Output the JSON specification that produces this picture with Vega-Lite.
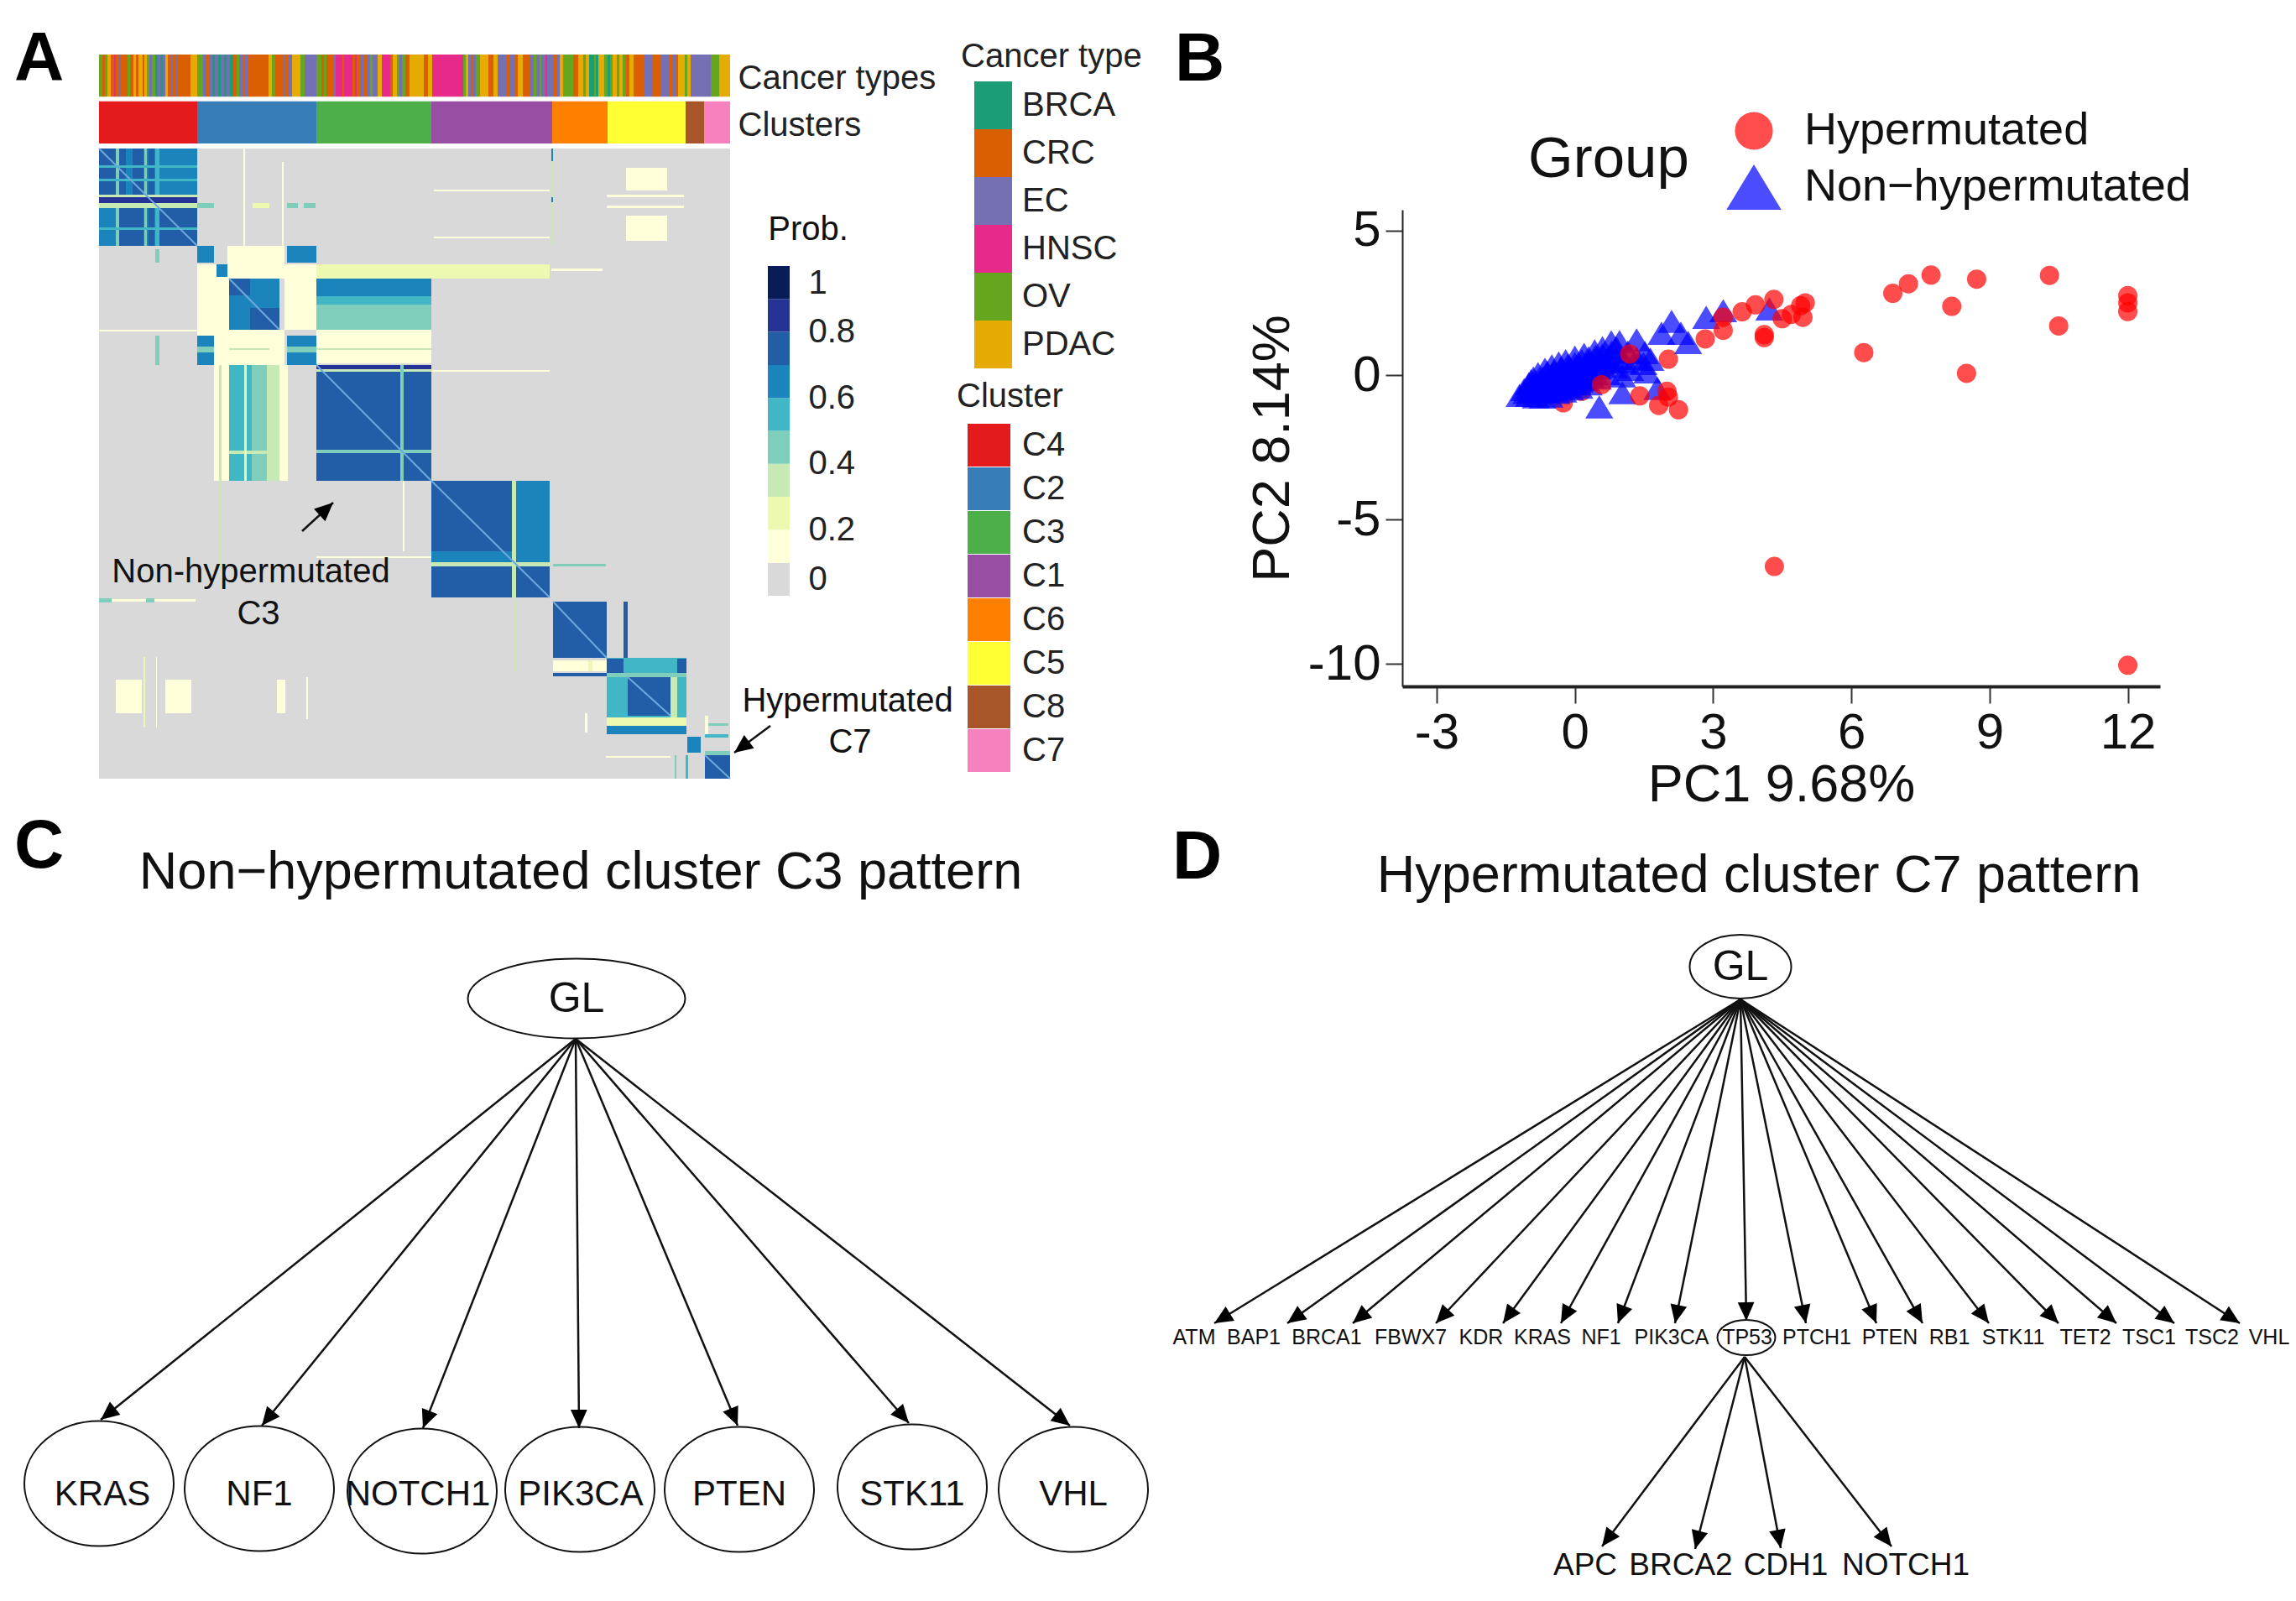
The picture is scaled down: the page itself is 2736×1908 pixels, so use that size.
{
"$schema":"https://vega.github.io/schema/vega-lite/v6.json",
"width":2736,"height":1908,"padding":0,"autosize":{"type":"none"},"background":"white",
"config":{"view":{"stroke":null},"font":"Liberation Sans","text":{"font":"Liberation Sans"}},
"datasets":{
"stripes":[
{"x0":0,"x1":4,"t":"OV"},{"x0":4,"x1":7,"t":"CRC"},{"x0":7,"x1":10,"t":"OV"},{"x0":10,"x1":14,"t":"PDAC"},{"x0":14,"x1":18,"t":"CRC"},{"x0":18,"x1":20,"t":"HNSC"},{"x0":20,"x1":24,"t":"CRC"},{"x0":24,"x1":26,"t":"EC"},{"x0":26,"x1":34,"t":"CRC"},{"x0":34,"x1":37,"t":"OV"},{"x0":37,"x1":41,"t":"CRC"},{"x0":41,"x1":44,"t":"PDAC"},{"x0":44,"x1":47,"t":"CRC"},{"x0":47,"x1":52,"t":"PDAC"},{"x0":52,"x1":54,"t":"CRC"},{"x0":54,"x1":57,"t":"PDAC"},{"x0":57,"x1":60,"t":"OV"},{"x0":60,"x1":63,"t":"EC"},{"x0":63,"x1":67,"t":"OV"},{"x0":67,"x1":70,"t":"BRCA"},{"x0":70,"x1":73,"t":"EC"},{"x0":73,"x1":76,"t":"BRCA"},{"x0":76,"x1":79,"t":"EC"},{"x0":79,"x1":82,"t":"PDAC"},{"x0":82,"x1":86,"t":"CRC"},{"x0":86,"x1":88,"t":"EC"},{"x0":88,"x1":92,"t":"CRC"},{"x0":92,"x1":94,"t":"EC"},{"x0":94,"x1":109,"t":"CRC"},{"x0":109,"x1":117,"t":"PDAC"},{"x0":117,"x1":124,"t":"OV"},{"x0":124,"x1":128,"t":"EC"},{"x0":128,"x1":131,"t":"CRC"},{"x0":131,"x1":135,"t":"EC"},{"x0":135,"x1":138,"t":"BRCA"},{"x0":138,"x1":142,"t":"EC"},{"x0":142,"x1":145,"t":"BRCA"},{"x0":145,"x1":149,"t":"EC"},{"x0":149,"x1":152,"t":"BRCA"},{"x0":152,"x1":156,"t":"EC"},{"x0":156,"x1":160,"t":"BRCA"},{"x0":160,"x1":164,"t":"CRC"},{"x0":164,"x1":167,"t":"OV"},{"x0":167,"x1":171,"t":"EC"},{"x0":171,"x1":174,"t":"CRC"},{"x0":174,"x1":177,"t":"EC"},{"x0":177,"x1":202,"t":"CRC"},{"x0":202,"x1":206,"t":"PDAC"},{"x0":206,"x1":210,"t":"OV"},{"x0":210,"x1":219,"t":"CRC"},{"x0":219,"x1":222,"t":"EC"},{"x0":222,"x1":225,"t":"CRC"},{"x0":225,"x1":230,"t":"EC"},{"x0":230,"x1":240,"t":"PDAC"},{"x0":240,"x1":245,"t":"OV"},{"x0":245,"x1":259,"t":"EC"},{"x0":259,"x1":265,"t":"OV"},{"x0":265,"x1":268,"t":"CRC"},{"x0":268,"x1":271,"t":"OV"},{"x0":271,"x1":279,"t":"CRC"},{"x0":279,"x1":282,"t":"EC"},{"x0":282,"x1":290,"t":"HNSC"},{"x0":290,"x1":292,"t":"CRC"},{"x0":292,"x1":302,"t":"HNSC"},{"x0":302,"x1":305,"t":"CRC"},{"x0":305,"x1":307,"t":"HNSC"},{"x0":307,"x1":312,"t":"CRC"},{"x0":312,"x1":316,"t":"EC"},{"x0":316,"x1":319,"t":"CRC"},{"x0":319,"x1":323,"t":"EC"},{"x0":323,"x1":326,"t":"OV"},{"x0":326,"x1":332,"t":"EC"},{"x0":332,"x1":337,"t":"PDAC"},{"x0":337,"x1":347,"t":"HNSC"},{"x0":347,"x1":350,"t":"CRC"},{"x0":350,"x1":355,"t":"PDAC"},{"x0":355,"x1":358,"t":"OV"},{"x0":358,"x1":361,"t":"EC"},{"x0":361,"x1":365,"t":"OV"},{"x0":365,"x1":370,"t":"CRC"},{"x0":370,"x1":387,"t":"PDAC"},{"x0":387,"x1":392,"t":"CRC"},{"x0":392,"x1":397,"t":"PDAC"},{"x0":397,"x1":434,"t":"HNSC"},{"x0":434,"x1":437,"t":"OV"},{"x0":437,"x1":440,"t":"PDAC"},{"x0":440,"x1":443,"t":"EC"},{"x0":443,"x1":446,"t":"CRC"},{"x0":446,"x1":449,"t":"EC"},{"x0":449,"x1":454,"t":"OV"},{"x0":454,"x1":464,"t":"PDAC"},{"x0":464,"x1":470,"t":"CRC"},{"x0":470,"x1":475,"t":"PDAC"},{"x0":475,"x1":485,"t":"EC"},{"x0":485,"x1":490,"t":"CRC"},{"x0":490,"x1":495,"t":"EC"},{"x0":495,"x1":499,"t":"CRC"},{"x0":499,"x1":505,"t":"PDAC"},{"x0":505,"x1":514,"t":"CRC"},{"x0":514,"x1":518,"t":"EC"},{"x0":518,"x1":521,"t":"OV"},{"x0":521,"x1":525,"t":"EC"},{"x0":525,"x1":527,"t":"OV"},{"x0":527,"x1":532,"t":"EC"},{"x0":532,"x1":534,"t":"HNSC"},{"x0":534,"x1":542,"t":"EC"},{"x0":542,"x1":545,"t":"CRC"},{"x0":545,"x1":549,"t":"EC"},{"x0":549,"x1":553,"t":"PDAC"},{"x0":553,"x1":565,"t":"OV"},{"x0":565,"x1":571,"t":"CRC"},{"x0":571,"x1":577,"t":"PDAC"},{"x0":577,"x1":580,"t":"OV"},{"x0":580,"x1":584,"t":"PDAC"},{"x0":584,"x1":590,"t":"BRCA"},{"x0":590,"x1":592,"t":"OV"},{"x0":592,"x1":595,"t":"BRCA"},{"x0":595,"x1":602,"t":"PDAC"},{"x0":602,"x1":606,"t":"OV"},{"x0":606,"x1":609,"t":"BRCA"},{"x0":609,"x1":612,"t":"OV"},{"x0":612,"x1":617,"t":"PDAC"},{"x0":617,"x1":620,"t":"OV"},{"x0":620,"x1":624,"t":"PDAC"},{"x0":624,"x1":628,"t":"OV"},{"x0":628,"x1":632,"t":"CRC"},{"x0":632,"x1":637,"t":"PDAC"},{"x0":637,"x1":649,"t":"CRC"},{"x0":649,"x1":659,"t":"EC"},{"x0":659,"x1":670,"t":"CRC"},{"x0":670,"x1":679,"t":"EC"},{"x0":679,"x1":684,"t":"CRC"},{"x0":684,"x1":687,"t":"EC"},{"x0":687,"x1":690,"t":"CRC"},{"x0":690,"x1":698,"t":"PDAC"},{"x0":698,"x1":701,"t":"OV"},{"x0":701,"x1":705,"t":"PDAC"},{"x0":705,"x1":729,"t":"EC"},{"x0":729,"x1":739,"t":"OV"},{"x0":739,"x1":752,"t":"PDAC"}
],
"clusters":[{"x0":0,"x1":117,"c":"C4"},{"x0":117,"x1":259,"c":"C2"},{"x0":259,"x1":396,"c":"C3"},{"x0":396,"x1":540,"c":"C1"},{"x0":540,"x1":606,"c":"C6"},{"x0":606,"x1":699,"c":"C5"},{"x0":699,"x1":721,"c":"C8"},{"x0":721,"x1":752,"c":"C7"}],
"probKey":[{"lo":0,"hi":0.1,"mid":0.05},{"lo":0.1,"hi":0.2,"mid":0.15},{"lo":0.2,"hi":0.3,"mid":0.25},{"lo":0.3,"hi":0.4,"mid":0.35},{"lo":0.4,"hi":0.5,"mid":0.45},{"lo":0.5,"hi":0.6,"mid":0.55},{"lo":0.6,"hi":0.7,"mid":0.65},{"lo":0.7,"hi":0.8,"mid":0.75},{"lo":0.8,"hi":0.9,"mid":0.85},{"lo":0.9,"hi":1,"mid":0.95}],
"heat":[
{"x0":0,"x1":752,"y0":0,"y1":751,"p":0.02},
{"x0":0,"x1":117,"y0":0,"y1":116,"p":0.65},{"x0":0,"x1":20,"y0":0,"y1":55,"p":0.72},{"x0":24,"x1":32,"y0":0,"y1":55,"p":0.72},{"x0":40,"x1":53,"y0":0,"y1":55,"p":0.72},{"x0":72,"x1":117,"y0":0,"y1":55,"p":0.62},{"x0":72,"x1":117,"y0":71,"y1":116,"p":0.75},{"x0":0,"x1":20,"y0":71,"y1":116,"p":0.68},{"x0":24,"x1":53,"y0":71,"y1":116,"p":0.72},{"x0":59,"x1":66,"y0":0,"y1":116,"p":0.75},{"x0":20,"x1":24,"y0":0,"y1":116,"p":0.45},{"x0":54,"x1":57,"y0":0,"y1":116,"p":0.45},{"x0":67,"x1":72,"y0":0,"y1":116,"p":0.5},{"x0":0,"x1":117,"y0":20,"y1":23,"p":0.55},{"x0":0,"x1":117,"y0":36,"y1":39,"p":0.55},{"x0":0,"x1":117,"y0":55,"y1":58,"p":0.3},{"x0":0,"x1":117,"y0":58,"y1":65,"p":0.85},{"x0":0,"x1":117,"y0":65,"y1":71,"p":0.35},{"x0":0,"x1":117,"y0":94,"y1":97,"p":0.55},
{"x0":539,"x1":541,"y0":0,"y1":116,"p":0.3},{"x0":539,"x1":541,"y0":0,"y1":15,"p":0.65},{"x0":539,"x1":541,"y0":58,"y1":64,"p":0.65},{"x0":605,"x1":697,"y0":55,"y1":58,"p":0.15},{"x0":605,"x1":697,"y0":68,"y1":71,"p":0.15},{"x0":628,"x1":677,"y0":23,"y1":50,"p":0.13},{"x0":628,"x1":677,"y0":80,"y1":110,"p":0.13},{"x0":399,"x1":537,"y0":49,"y1":51,"p":0.11},{"x0":399,"x1":537,"y0":105,"y1":107,"p":0.11},{"x0":218,"x1":220,"y0":16,"y1":116,"p":0.13},{"x0":172,"x1":174,"y0":0,"y1":116,"p":0.11},{"x0":117,"x1":137,"y0":65,"y1":71,"p":0.42},{"x0":183,"x1":203,"y0":65,"y1":71,"p":0.25},{"x0":224,"x1":237,"y0":65,"y1":71,"p":0.42},{"x0":244,"x1":258,"y0":65,"y1":71,"p":0.42},
{"x0":153,"x1":221,"y0":116,"y1":155,"p":0.15},{"x0":117,"x1":153,"y0":138,"y1":155,"p":0.15},{"x0":221,"x1":259,"y0":138,"y1":155,"p":0.15},{"x0":117,"x1":137,"y0":116,"y1":136,"p":0.65},{"x0":224,"x1":259,"y0":116,"y1":136,"p":0.65},{"x0":140,"x1":153,"y0":138,"y1":153,"p":0.6},{"x0":117,"x1":155,"y0":155,"y1":216,"p":0.15},{"x0":221,"x1":259,"y0":155,"y1":216,"p":0.15},{"x0":155,"x1":221,"y0":216,"y1":258,"p":0.15},{"x0":117,"x1":155,"y0":216,"y1":258,"p":0.13},{"x0":155,"x1":215,"y0":155,"y1":216,"p":0.68},{"x0":180,"x1":215,"y0":190,"y1":216,"p":0.75},{"x0":155,"x1":180,"y0":155,"y1":175,"p":0.72},{"x0":117,"x1":137,"y0":223,"y1":258,"p":0.62},{"x0":224,"x1":259,"y0":223,"y1":258,"p":0.65},{"x0":117,"x1":137,"y0":236,"y1":243,"p":0.45},{"x0":224,"x1":259,"y0":236,"y1":243,"p":0.45},
{"x0":259,"x1":396,"y0":155,"y1":176,"p":0.62},{"x0":259,"x1":396,"y0":176,"y1":186,"p":0.55},{"x0":259,"x1":396,"y0":186,"y1":196,"p":0.42},{"x0":259,"x1":396,"y0":196,"y1":216,"p":0.48},{"x0":259,"x1":537,"y0":138,"y1":155,"p":0.2},{"x0":259,"x1":396,"y0":216,"y1":256,"p":0.12},{"x0":155,"x1":203,"y0":238,"y1":240,"p":0.35},{"x0":259,"x1":396,"y0":238,"y1":240,"p":0.35},{"x0":539,"x1":600,"y0":143,"y1":146,"p":0.1},{"x0":67,"x1":72,"y0":120,"y1":136,"p":0.4},{"x0":67,"x1":72,"y0":223,"y1":258,"p":0.45},{"x0":0,"x1":117,"y0":216,"y1":218,"p":0.12},
{"x0":155,"x1":182,"y0":258,"y1":396,"p":0.58},{"x0":182,"x1":200,"y0":258,"y1":396,"p":0.48},{"x0":200,"x1":215,"y0":258,"y1":396,"p":0.35},{"x0":137,"x1":155,"y0":258,"y1":396,"p":0.15},{"x0":143,"x1":146,"y0":258,"y1":500,"p":0.32},{"x0":155,"x1":215,"y0":360,"y1":364,"p":0.3},{"x0":173,"x1":176,"y0":258,"y1":396,"p":0.2},{"x0":215,"x1":225,"y0":258,"y1":396,"p":0.12},
{"x0":259,"x1":396,"y0":258,"y1":396,"p":0.78},{"x0":259,"x1":396,"y0":258,"y1":263,"p":0.85},{"x0":259,"x1":396,"y0":263,"y1":266,"p":0.35},{"x0":359,"x1":363,"y0":258,"y1":396,"p":0.45},{"x0":259,"x1":396,"y0":359,"y1":363,"p":0.45},{"x0":396,"x1":537,"y0":264,"y1":266,"p":0.11},{"x0":362,"x1":364,"y0":396,"y1":480,"p":0.11},{"x0":259,"x1":396,"y0":486,"y1":488,"p":0.1},
{"x0":396,"x1":537,"y0":396,"y1":535,"p":0.76},{"x0":497,"x1":537,"y0":396,"y1":493,"p":0.66},{"x0":396,"x1":492,"y0":480,"y1":493,"p":0.66},{"x0":396,"x1":480,"y0":498,"y1":535,"p":0.72},{"x0":480,"x1":537,"y0":498,"y1":535,"p":0.72},{"x0":492,"x1":497,"y0":396,"y1":535,"p":0.35},{"x0":396,"x1":537,"y0":493,"y1":498,"p":0.35},{"x0":541,"x1":604,"y0":495,"y1":498,"p":0.42},{"x0":0,"x1":15,"y0":536,"y1":541,"p":0.42},{"x0":56,"x1":66,"y0":536,"y1":541,"p":0.42},{"x0":15,"x1":56,"y0":537,"y1":540,"p":0.12},{"x0":66,"x1":115,"y0":537,"y1":540,"p":0.11},{"x0":495,"x1":497,"y0":537,"y1":623,"p":0.3},
{"x0":541,"x1":605,"y0":540,"y1":607,"p":0.76},{"x0":625,"x1":630,"y0":540,"y1":607,"p":0.72},{"x0":541,"x1":605,"y0":625,"y1":629,"p":0.72},{"x0":541,"x1":605,"y0":610,"y1":623,"p":0.11},{"x0":583,"x1":588,"y0":610,"y1":623,"p":0.2},
{"x0":605,"x1":700,"y0":607,"y1":698,"p":0.55},{"x0":630,"x1":681,"y0":630,"y1":676,"p":0.74},{"x0":605,"x1":625,"y0":608,"y1":625,"p":0.72},{"x0":689,"x1":700,"y0":608,"y1":625,"p":0.78},{"x0":605,"x1":700,"y0":625,"y1":630,"p":0.42},{"x0":681,"x1":689,"y0":630,"y1":678,"p":0.3},{"x0":605,"x1":700,"y0":678,"y1":688,"p":0.2},{"x0":605,"x1":700,"y0":688,"y1":698,"p":0.68},
{"x0":701,"x1":717,"y0":701,"y1":720,"p":0.65},{"x0":722,"x1":752,"y0":718,"y1":723,"p":0.42},{"x0":722,"x1":752,"y0":723,"y1":751,"p":0.75},{"x0":722,"x1":750,"y0":698,"y1":702,"p":0.55},{"x0":722,"x1":750,"y0":685,"y1":688,"p":0.42},{"x0":686,"x1":688,"y0":723,"y1":751,"p":0.45},{"x0":699,"x1":702,"y0":723,"y1":751,"p":0.58},{"x0":604,"x1":681,"y0":724,"y1":726,"p":0.15},{"x0":722,"x1":726,"y0":676,"y1":698,"p":0.13},
{"x0":20,"x1":51,"y0":633,"y1":673,"p":0.13},{"x0":79,"x1":110,"y0":633,"y1":673,"p":0.13},{"x0":212,"x1":222,"y0":633,"y1":673,"p":0.14},{"x0":53,"x1":55,"y0":606,"y1":690,"p":0.2},{"x0":68,"x1":69,"y0":606,"y1":690,"p":0.12},{"x0":247,"x1":249,"y0":630,"y1":680,"p":0.11},{"x0":579,"x1":582,"y0":673,"y1":696,"p":0.11}
],
"diag":[{"x0":0,"y0":0,"x1":117,"y1":116},{"x0":155,"y0":155,"x1":215,"y1":216},{"x0":259,"y0":258,"x1":396,"y1":396},{"x0":396,"y0":396,"x1":537,"y1":535},{"x0":541,"y0":540,"x1":605,"y1":607},{"x0":630,"y0":630,"x1":681,"y1":676},{"x0":722,"y0":723,"x1":752,"y1":751}],
"pca":[
{"pc1":0.15,"pc2":-0.56,"g":"Hypermutated"},{"pc1":-0.25,"pc2":-0.96,"g":"Hypermutated"},{"pc1":0.72,"pc2":0.3,"g":"Hypermutated"},{"pc1":2.03,"pc2":0.55,"g":"Hypermutated"},
{"pc1":-1.2,"pc2":-0.7,"g":"Non−hypermutated"},{"pc1":-1.1,"pc2":-0.5,"g":"Non−hypermutated"},{"pc1":-1,"pc2":-0.3,"g":"Non−hypermutated"},{"pc1":-0.9,"pc2":-0.1,"g":"Non−hypermutated"},{"pc1":-0.8,"pc2":0.05,"g":"Non−hypermutated"},{"pc1":-0.65,"pc2":0.2,"g":"Non−hypermutated"},{"pc1":-0.5,"pc2":0.32,"g":"Non−hypermutated"},{"pc1":-0.35,"pc2":0.42,"g":"Non−hypermutated"},{"pc1":-0.2,"pc2":0.5,"g":"Non−hypermutated"},{"pc1":0,"pc2":0.62,"g":"Non−hypermutated"},{"pc1":0.2,"pc2":0.72,"g":"Non−hypermutated"},{"pc1":0.43,"pc2":0.84,"g":"Non−hypermutated"},{"pc1":0.6,"pc2":0.95,"g":"Non−hypermutated"},{"pc1":0.79,"pc2":1.15,"g":"Non−hypermutated"},
{"pc1":-1,"pc2":-0.7,"g":"Non−hypermutated"},{"pc1":-0.85,"pc2":-0.75,"g":"Non−hypermutated"},{"pc1":-0.7,"pc2":-0.76,"g":"Non−hypermutated"},{"pc1":-0.55,"pc2":-0.72,"g":"Non−hypermutated"},{"pc1":-0.4,"pc2":-0.6,"g":"Non−hypermutated"},{"pc1":-0.25,"pc2":-0.55,"g":"Non−hypermutated"},{"pc1":-0.1,"pc2":-0.48,"g":"Non−hypermutated"},{"pc1":0.1,"pc2":-0.42,"g":"Non−hypermutated"},{"pc1":0.3,"pc2":-0.3,"g":"Non−hypermutated"},{"pc1":0.5,"pc2":-0.1,"g":"Non−hypermutated"},{"pc1":0.7,"pc2":0.05,"g":"Non−hypermutated"},
{"pc1":-0.9,"pc2":-0.4,"g":"Non−hypermutated"},{"pc1":-0.7,"pc2":-0.4,"g":"Non−hypermutated"},{"pc1":-0.5,"pc2":-0.3,"g":"Non−hypermutated"},{"pc1":-0.3,"pc2":-0.2,"g":"Non−hypermutated"},{"pc1":-0.1,"pc2":-0.1,"g":"Non−hypermutated"},{"pc1":0.1,"pc2":0,"g":"Non−hypermutated"},{"pc1":0.3,"pc2":0.1,"g":"Non−hypermutated"},{"pc1":0.5,"pc2":0.25,"g":"Non−hypermutated"},{"pc1":-0.7,"pc2":-0.1,"g":"Non−hypermutated"},{"pc1":-0.5,"pc2":0,"g":"Non−hypermutated"},{"pc1":-0.3,"pc2":0.1,"g":"Non−hypermutated"},{"pc1":-0.1,"pc2":0.2,"g":"Non−hypermutated"},{"pc1":0.1,"pc2":0.3,"g":"Non−hypermutated"},{"pc1":0.3,"pc2":0.45,"g":"Non−hypermutated"},{"pc1":0.55,"pc2":0.5,"g":"Non−hypermutated"},
{"pc1":-1.05,"pc2":-0.6,"g":"Non−hypermutated"},{"pc1":-0.95,"pc2":-0.55,"g":"Non−hypermutated"},{"pc1":-0.85,"pc2":-0.55,"g":"Non−hypermutated"},{"pc1":-0.75,"pc2":-0.55,"g":"Non−hypermutated"},{"pc1":-0.65,"pc2":-0.55,"g":"Non−hypermutated"},{"pc1":-0.55,"pc2":-0.5,"g":"Non−hypermutated"},{"pc1":-0.45,"pc2":-0.45,"g":"Non−hypermutated"},{"pc1":-0.35,"pc2":-0.4,"g":"Non−hypermutated"},{"pc1":-0.2,"pc2":-0.35,"g":"Non−hypermutated"},{"pc1":-0.05,"pc2":-0.3,"g":"Non−hypermutated"},{"pc1":0.1,"pc2":-0.2,"g":"Non−hypermutated"},{"pc1":0.2,"pc2":-0.15,"g":"Non−hypermutated"},{"pc1":0.35,"pc2":-0.05,"g":"Non−hypermutated"},{"pc1":-0.95,"pc2":-0.2,"g":"Non−hypermutated"},{"pc1":-0.85,"pc2":-0.25,"g":"Non−hypermutated"},{"pc1":-0.75,"pc2":-0.25,"g":"Non−hypermutated"},{"pc1":-0.6,"pc2":-0.2,"g":"Non−hypermutated"},{"pc1":-0.45,"pc2":-0.15,"g":"Non−hypermutated"},{"pc1":-0.3,"pc2":-0.05,"g":"Non−hypermutated"},{"pc1":-0.15,"pc2":0.05,"g":"Non−hypermutated"},{"pc1":0,"pc2":0.15,"g":"Non−hypermutated"},{"pc1":0.15,"pc2":0.15,"g":"Non−hypermutated"},{"pc1":0.25,"pc2":0.25,"g":"Non−hypermutated"},{"pc1":0.4,"pc2":0.35,"g":"Non−hypermutated"},{"pc1":-0.6,"pc2":0.1,"g":"Non−hypermutated"},{"pc1":-0.45,"pc2":0.15,"g":"Non−hypermutated"},{"pc1":-0.3,"pc2":0.25,"g":"Non−hypermutated"},{"pc1":-0.15,"pc2":0.35,"g":"Non−hypermutated"},{"pc1":0,"pc2":0.4,"g":"Non−hypermutated"},{"pc1":0.15,"pc2":0.5,"g":"Non−hypermutated"},{"pc1":0.3,"pc2":0.6,"g":"Non−hypermutated"},{"pc1":0.45,"pc2":0.65,"g":"Non−hypermutated"},{"pc1":0.6,"pc2":0.7,"g":"Non−hypermutated"},{"pc1":0.7,"pc2":0.5,"g":"Non−hypermutated"},{"pc1":0.8,"pc2":0.8,"g":"Non−hypermutated"},{"pc1":0.9,"pc2":0.6,"g":"Non−hypermutated"},{"pc1":0.85,"pc2":0.3,"g":"Non−hypermutated"},{"pc1":1.05,"pc2":0.45,"g":"Non−hypermutated"},{"pc1":1.2,"pc2":0.2,"g":"Non−hypermutated"},{"pc1":0.9,"pc2":0.95,"g":"Non−hypermutated"},
{"pc1":0.53,"pc2":-1.1,"g":"Non−hypermutated"},{"pc1":1.03,"pc2":-0.61,"g":"Non−hypermutated"},{"pc1":1.03,"pc2":-0.03,"g":"Non−hypermutated"},{"pc1":1.57,"pc2":0.11,"g":"Non−hypermutated"},{"pc1":1.79,"pc2":-0.46,"g":"Non−hypermutated"},{"pc1":1.34,"pc2":1.22,"g":"Non−hypermutated"},{"pc1":1.52,"pc2":0.78,"g":"Non−hypermutated"},{"pc1":1.34,"pc2":0.58,"g":"Non−hypermutated"},{"pc1":1.49,"pc2":0.4,"g":"Non−hypermutated"},{"pc1":1.64,"pc2":0.55,"g":"Non−hypermutated"},{"pc1":2.1,"pc2":1.86,"g":"Non−hypermutated"},{"pc1":1.88,"pc2":1.45,"g":"Non−hypermutated"},{"pc1":2.3,"pc2":1.45,"g":"Non−hypermutated"},{"pc1":2.46,"pc2":1.13,"g":"Non−hypermutated"},{"pc1":0.97,"pc2":1.16,"g":"Non−hypermutated"},{"pc1":1.15,"pc2":0.8,"g":"Non−hypermutated"},{"pc1":2.85,"pc2":2,"g":"Non−hypermutated"},{"pc1":3.22,"pc2":2.23,"g":"Non−hypermutated"},{"pc1":4.22,"pc2":2.29,"g":"Non−hypermutated"},
{"pc1":12,"pc2":2.75,"g":"Hypermutated"},{"pc1":12,"pc2":2.5,"g":"Hypermutated"},{"pc1":12,"pc2":2.2,"g":"Hypermutated"},{"pc1":10.3,"pc2":3.45,"g":"Hypermutated"},{"pc1":10.5,"pc2":1.7,"g":"Hypermutated"},{"pc1":8.72,"pc2":3.32,"g":"Hypermutated"},{"pc1":7.73,"pc2":3.46,"g":"Hypermutated"},{"pc1":7.24,"pc2":3.16,"g":"Hypermutated"},{"pc1":6.9,"pc2":2.83,"g":"Hypermutated"},{"pc1":8.18,"pc2":2.38,"g":"Hypermutated"},{"pc1":8.5,"pc2":0.06,"g":"Hypermutated"},{"pc1":6.27,"pc2":0.78,"g":"Hypermutated"},{"pc1":4.11,"pc2":1.4,"g":"Hypermutated"},{"pc1":4.11,"pc2":1.3,"g":"Hypermutated"},{"pc1":5,"pc2":2.5,"g":"Hypermutated"},{"pc1":4.9,"pc2":2.4,"g":"Hypermutated"},{"pc1":4.7,"pc2":2.1,"g":"Hypermutated"},{"pc1":4.95,"pc2":2,"g":"Hypermutated"},{"pc1":4.32,"pc2":2.62,"g":"Hypermutated"},{"pc1":3.92,"pc2":2.43,"g":"Hypermutated"},{"pc1":3.63,"pc2":2.19,"g":"Hypermutated"},{"pc1":3.22,"pc2":1.55,"g":"Hypermutated"},{"pc1":3.22,"pc2":2,"g":"Hypermutated"},{"pc1":2.83,"pc2":1.25,"g":"Hypermutated"},{"pc1":4.5,"pc2":1.95,"g":"Hypermutated"},{"pc1":1.19,"pc2":0.73,"g":"Hypermutated"},{"pc1":0.58,"pc2":-0.33,"g":"Hypermutated"},{"pc1":1.41,"pc2":-0.72,"g":"Hypermutated"},{"pc1":1.82,"pc2":-1.05,"g":"Hypermutated"},{"pc1":2.03,"pc2":-0.76,"g":"Hypermutated"},{"pc1":2.25,"pc2":-1.2,"g":"Hypermutated"},{"pc1":2,"pc2":-0.56,"g":"Hypermutated"},{"pc1":4.33,"pc2":-6.62,"g":"Hypermutated"},{"pc1":12,"pc2":-10.04,"g":"Hypermutated"}
],
"edges":[
{"sx":686,"sy":1238,"tx":120,"ty":1692},{"sx":686,"sy":1238,"tx":312,"ty":1699},{"sx":686,"sy":1238,"tx":504,"ty":1702},{"sx":686,"sy":1238,"tx":690,"ty":1702},{"sx":686,"sy":1238,"tx":879,"ty":1699},{"sx":686,"sy":1238,"tx":1083,"ty":1696},{"sx":686,"sy":1238,"tx":1275,"ty":1699},
{"sx":2074,"sy":1191,"tx":1447,"ty":1577},{"sx":2074,"sy":1191,"tx":1534,"ty":1577},{"sx":2074,"sy":1191,"tx":1612,"ty":1577},{"sx":2074,"sy":1191,"tx":1711,"ty":1577},{"sx":2074,"sy":1191,"tx":1791,"ty":1577},{"sx":2074,"sy":1191,"tx":1860,"ty":1577},{"sx":2074,"sy":1191,"tx":1928,"ty":1577},{"sx":2074,"sy":1191,"tx":1996,"ty":1577},{"sx":2074,"sy":1191,"tx":2081,"ty":1574},{"sx":2074,"sy":1191,"tx":2152,"ty":1577},{"sx":2074,"sy":1191,"tx":2236,"ty":1577},{"sx":2074,"sy":1191,"tx":2291,"ty":1577},{"sx":2074,"sy":1191,"tx":2370,"ty":1577},{"sx":2074,"sy":1191,"tx":2453,"ty":1577},{"sx":2074,"sy":1191,"tx":2522,"ty":1577},{"sx":2074,"sy":1191,"tx":2591,"ty":1577},{"sx":2074,"sy":1191,"tx":2669,"ty":1577},
{"sx":2079,"sy":1617,"tx":1909,"ty":1843},{"sx":2079,"sy":1617,"tx":2020,"ty":1846},{"sx":2079,"sy":1617,"tx":2122,"ty":1845},{"sx":2079,"sy":1617,"tx":2254,"ty":1843},
{"sx":360,"sy":633,"tx":397,"ty":599},{"sx":918,"sy":865,"tx":875,"ty":897}
],
"labels":[
{"label":"Non−hypermutated cluster C3 pattern","x":692,"y":1040,"k":"title"},{"label":"Hypermutated cluster C7 pattern","x":2096,"y":1044,"k":"title"},
{"label":"GL","x":687,"y":1191,"k":"root"},{"label":"GL","x":2074,"y":1153,"k":"root"},
{"label":"KRAS","x":122,"y":1781,"k":"gene"},{"label":"NF1","x":309,"y":1781,"k":"gene"},{"label":"NOTCH1","x":498,"y":1781,"k":"gene"},{"label":"PIK3CA","x":692,"y":1781,"k":"gene"},{"label":"PTEN","x":881,"y":1781,"k":"gene"},{"label":"STK11","x":1087,"y":1781,"k":"gene"},{"label":"VHL","x":1279,"y":1781,"k":"gene"},
{"label":"ATM","x":1423,"y":1594,"k":"small"},{"label":"BAP1","x":1494,"y":1594,"k":"small"},{"label":"BRCA1","x":1581,"y":1594,"k":"small"},{"label":"FBWX7","x":1681,"y":1594,"k":"small"},{"label":"KDR","x":1765,"y":1594,"k":"small"},{"label":"KRAS","x":1838,"y":1594,"k":"small"},{"label":"NF1","x":1908,"y":1594,"k":"small"},{"label":"PIK3CA","x":1992,"y":1594,"k":"small"},{"label":"TP53","x":2082,"y":1594,"k":"small"},{"label":"PTCH1","x":2165,"y":1594,"k":"small"},{"label":"PTEN","x":2252,"y":1594,"k":"small"},{"label":"RB1","x":2323,"y":1594,"k":"small"},{"label":"STK11","x":2399,"y":1594,"k":"small"},{"label":"TET2","x":2485,"y":1594,"k":"small"},{"label":"TSC1","x":2561,"y":1594,"k":"small"},{"label":"TSC2","x":2636,"y":1594,"k":"small"},{"label":"VHL","x":2704,"y":1594,"k":"small"},
{"label":"APC","x":1889,"y":1866,"k":"mid"},{"label":"BRCA2","x":2003,"y":1866,"k":"mid"},{"label":"CDH1","x":2128,"y":1866,"k":"mid"},{"label":"NOTCH1","x":2271,"y":1866,"k":"mid"},
{"label":"Non-hypermutated","x":299,"y":682,"k":"note"},{"label":"C3","x":308,"y":732,"k":"note"},{"label":"Hypermutated","x":1010,"y":836,"k":"note"},{"label":"C7","x":1013,"y":885,"k":"note"},{"label":"Prob.","x":963,"y":274,"k":"note"}
]
},
"resolve":{"scale":{"x":"independent","y":"independent","color":"independent","shape":"independent","size":"independent"},"axis":{"x":"independent","y":"independent"},"legend":{"color":"independent","shape":"independent"}},
"layer":[
{"data":{"name":"stripes"},"transform":[{"calculate":"'Cancer types'","as":"track"}],"mark":{"type":"rect"},
"encoding":{
"x":{"field":"x0","type":"quantitative","scale":{"domain":[0,752],"range":[118,870],"zero":false,"nice":false},"axis":null},"x2":{"field":"x1"},
"y":{"field":"track","type":"nominal","scale":{"domain":["Cancer types","Clusters"],"range":[65,171],"paddingInner":0.1,"paddingOuter":0},"axis":{"orient":"right","offset":-1858,"title":null,"domain":false,"ticks":false,"labelFontSize":40,"labelFont":"Liberation Sans","labelColor":"#222","labelPadding":1,"labelOffset":4,"labelLimit":400}},
"color":{"field":"t","type":"nominal","scale":{"domain":["BRCA","CRC","EC","HNSC","OV","PDAC"],"range":["#1b9e77","#d95f02","#7570b3","#e7298a","#66a61e","#e6ab02"]},
"legend":{"title":"Cancer type","orient":"none","legendX":1145,"legendY":48,"titleLimit":500,"titleFontSize":40,"titleFont":"Liberation Sans","titleFontWeight":"normal","titleColor":"#222","titlePadding":15,"labelFontSize":40,"labelFont":"Liberation Sans","labelColor":"#222","labelOffset":12,"symbolOffset":16,"symbolType":"M-1,-1.267H1V1.267H-1Z","symbolSize":2025,"symbolStrokeWidth":0,"rowPadding":-2,"padding":0}}}},
{"data":{"name":"clusters"},"transform":[{"calculate":"'Clusters'","as":"track"}],"mark":{"type":"rect"},
"encoding":{
"x":{"field":"x0","type":"quantitative","scale":{"domain":[0,752],"range":[118,870],"zero":false,"nice":false},"axis":null},"x2":{"field":"x1"},
"y":{"field":"track","type":"nominal","scale":{"domain":["Cancer types","Clusters"],"range":[65,171],"paddingInner":0.1,"paddingOuter":0},"axis":null},
"color":{"field":"c","type":"nominal","scale":{"domain":["C4","C2","C3","C1","C6","C5","C8","C7"],"range":["#e41a1c","#377eb8","#4daf4a","#984ea3","#ff7f00","#ffff33","#a65628","#f781bf"]},
"legend":{"title":"Cluster","orient":"none","legendX":1140,"legendY":453,"titleLimit":500,"titleFontSize":40,"titleFont":"Liberation Sans","titleFontWeight":"normal","titleColor":"#222","titlePadding":12,"labelFontSize":40,"labelFont":"Liberation Sans","labelColor":"#222","labelOffset":14,"symbolOffset":13,"symbolType":"square","symbolSize":2601,"symbolStrokeWidth":0,"rowPadding":1,"padding":0}}}},
{"data":{"name":"heat"},"mark":{"type":"rect"},
"encoding":{
"x":{"field":"x0","type":"quantitative","scale":{"domain":[0,752],"range":[118,870],"zero":false,"nice":false},"axis":null},"x2":{"field":"x1"},
"y":{"field":"y0","type":"quantitative","scale":{"domain":[0,751],"range":[177,928],"zero":false,"nice":false},"axis":null},"y2":{"field":"y1"},
"color":{"field":"p","type":"quantitative","scale":{"type":"quantize","domain":[0,1],"range":["#d9d9d9","#ffffd9","#edf8b1","#c7e9b4","#7fcdbb","#41b6c4","#1c84bc","#225ea8","#253494","#081d58"]},"legend":null}}},
{"data":{"name":"probKey"},"mark":{"type":"rect"},
"encoding":{
"x":{"datum":0,"type":"quantitative","scale":{"domain":[0,1],"range":[915,941],"zero":false,"nice":false},"axis":null},"x2":{"datum":1},
"y":{"field":"lo","type":"quantitative","scale":{"domain":[0,1],"range":[710,317],"zero":false,"nice":false},"axis":{"orient":"right","offset":-1795,"title":null,"values":[0,0.2,0.4,0.6,0.8,1],"format":"~g","domain":false,"ticks":false,"grid":false,"labelFlush":true,"labelFontSize":40,"labelFont":"Liberation Sans","labelColor":"#222","labelPadding":22}},"y2":{"field":"hi"},
"color":{"field":"mid","type":"quantitative","scale":{"type":"quantize","domain":[0,1],"range":["#d9d9d9","#ffffd9","#edf8b1","#c7e9b4","#7fcdbb","#41b6c4","#1c84bc","#225ea8","#253494","#081d58"]},"legend":null}}},
{"data":{"name":"diag"},"mark":{"type":"rule","stroke":"#6ea8dc","strokeWidth":2},
"encoding":{
"x":{"field":"x0","type":"quantitative","scale":{"domain":[0,752],"range":[118,870],"zero":false,"nice":false},"axis":null},"x2":{"field":"x1"},
"y":{"field":"y0","type":"quantitative","scale":{"domain":[0,751],"range":[177,928],"zero":false,"nice":false},"axis":null},"y2":{"field":"y1"}}},
{"data":{"name":"pca"},"mark":{"type":"point","filled":true,"opacity":0.7,"size":530},
"encoding":{
"x":{"field":"pc1","type":"quantitative","scale":{"domain":[-3.745,12.7],"range":[1671,2574],"zero":false,"nice":false},"axis":{"orient":"bottom","offset":-1090,"values":[-3,0,3,6,9,12],"labelExpr":"replace(datum.label,'−','-')","title":"PC1 9.68%","grid":false,"labelFontSize":60,"labelFont":"Liberation Sans","labelColor":"#111","labelPadding":6,"titleFontSize":63,"titleFont":"Liberation Sans","titleFontWeight":"normal","titleColor":"#111","titlePadding":1,"tickSize":20,"tickWidth":2,"tickColor":"#333","domainWidth":4,"domainColor":"#222"}},
"y":{"field":"pc2","type":"quantitative","scale":{"domain":[-10.77,5.72],"range":[818,250],"zero":false,"nice":false},"axis":{"orient":"left","offset":-1671,"values":[-10,-5,0,5],"labelExpr":"replace(datum.label,'−','-')","title":"PC2 8.14%","grid":false,"labelFontSize":60,"labelFont":"Liberation Sans","labelColor":"#111","labelPadding":6,"titleFontSize":63,"titleFont":"Liberation Sans","titleFontWeight":"normal","titleColor":"#111","titlePadding":10,"tickSize":20,"tickWidth":2,"tickColor":"#333","domainWidth":2,"domainColor":"#222"}},
"color":{"field":"g","type":"nominal","scale":{"domain":["Hypermutated","Non−hypermutated"],"range":["#ff0000","#0000ff"]},"legend":{"title":"Group","orient":"none","legendX":1821,"legendY":129,"titleOrient":"left","titleLimit":500,"titleFontSize":69,"titleFont":"Liberation Sans","titleFontWeight":"normal","titleColor":"#111","titlePadding":50,"labelFontSize":54,"labelFont":"Liberation Sans","labelColor":"#111","labelOffset":33,"symbolSize":2040,"symbolStrokeWidth":0,"rowPadding":12,"padding":0,"labelLimit":600}},
"shape":{"field":"g","type":"nominal","scale":{"domain":["Hypermutated","Non−hypermutated"],"range":["circle","M0,-1.2L1.45,1.2L-1.45,1.2Z"]}}}},
{"data":{"name":"edges"},"mark":{"type":"rule","stroke":"#111","strokeWidth":2.5},
"encoding":{
"x":{"field":"sx","type":"quantitative","scale":{"domain":[0,2736],"range":[0,2736],"zero":false,"nice":false},"axis":null},"x2":{"field":"tx"},
"y":{"field":"sy","type":"quantitative","scale":{"domain":[0,1908],"range":[0,1908],"zero":false,"nice":false},"axis":null},"y2":{"field":"ty"}}},
{"data":{"name":"edges"},"transform":[{"calculate":"atan2(datum.tx-datum.sx,datum.sy-datum.ty)*180/PI","as":"ang"}],
"mark":{"type":"point","filled":true,"opacity":1,"color":"#000","size":484,"shape":"M0,0L0.9,2L-0.9,2Z"},
"encoding":{
"x":{"field":"tx","type":"quantitative","scale":{"domain":[0,2736],"range":[0,2736],"zero":false,"nice":false},"axis":null},
"y":{"field":"ty","type":"quantitative","scale":{"domain":[0,1908],"range":[0,1908],"zero":false,"nice":false},"axis":null},
"angle":{"field":"ang","type":"quantitative","scale":null}}},
{"data":{"values":[{"node":"KRAS","x":118,"y":1768},{"node":"NF1","x":309,"y":1774},{"node":"NOTCH1","x":503,"y":1777},{"node":"PIK3CA","x":691,"y":1775},{"node":"PTEN","x":881,"y":1775},{"node":"STK11","x":1087,"y":1772},{"node":"VHL","x":1279,"y":1775}]},
"mark":{"type":"point","filled":false,"opacity":1,"stroke":"#111","strokeWidth":2,"size":31684,"shape":"M-1,0C-1,-0.462 -0.5523,-0.837 0,-0.837C0.5523,-0.837 1,-0.462 1,0C1,0.462 0.5523,0.837 0,0.837C-0.5523,0.837 -1,0.462 -1,0Z"},
"encoding":{
"x":{"field":"x","type":"quantitative","scale":{"domain":[0,2736],"range":[0,2736],"zero":false,"nice":false},"axis":null},
"y":{"field":"y","type":"quantitative","scale":{"domain":[0,1908],"range":[0,1908],"zero":false,"nice":false},"axis":null}}},
{"data":{"values":[{"node":"GL","x":687,"y":1190}]},
"mark":{"type":"point","filled":false,"opacity":1,"stroke":"#111","strokeWidth":2,"size":67081,"shape":"M-1,0C-1,-0.203 -0.5523,-0.367 0,-0.367C0.5523,-0.367 1,-0.203 1,0C1,0.203 0.5523,0.367 0,0.367C-0.5523,0.367 -1,0.203 -1,0Z"},
"encoding":{
"x":{"field":"x","type":"quantitative","scale":{"domain":[0,2736],"range":[0,2736],"zero":false,"nice":false},"axis":null},
"y":{"field":"y","type":"quantitative","scale":{"domain":[0,1908],"range":[0,1908],"zero":false,"nice":false},"axis":null}}},
{"data":{"values":[{"node":"GL","x":2074,"y":1152}]},
"mark":{"type":"point","filled":false,"opacity":1,"stroke":"#111","strokeWidth":2,"size":14641,"shape":"M-1,0C-1,-0.347 -0.5523,-0.628 0,-0.628C0.5523,-0.628 1,-0.347 1,0C1,0.347 0.5523,0.628 0,0.628C-0.5523,0.628 -1,0.347 -1,0Z"},
"encoding":{
"x":{"field":"x","type":"quantitative","scale":{"domain":[0,2736],"range":[0,2736],"zero":false,"nice":false},"axis":null},
"y":{"field":"y","type":"quantitative","scale":{"domain":[0,1908],"range":[0,1908],"zero":false,"nice":false},"axis":null}}},
{"data":{"values":[{"node":"TP53","x":2081,"y":1594}]},
"mark":{"type":"point","filled":false,"opacity":1,"stroke":"#111","strokeWidth":2,"size":4761,"shape":"M-1,0C-1,-0.337 -0.5523,-0.61 0,-0.61C0.5523,-0.61 1,-0.337 1,0C1,0.337 0.5523,0.61 0,0.61C-0.5523,0.61 -1,0.337 -1,0Z"},
"encoding":{
"x":{"field":"x","type":"quantitative","scale":{"domain":[0,2736],"range":[0,2736],"zero":false,"nice":false},"axis":null},
"y":{"field":"y","type":"quantitative","scale":{"domain":[0,1908],"range":[0,1908],"zero":false,"nice":false},"axis":null}}},
{"data":{"name":"labels"},"mark":{"type":"text","font":"Liberation Sans","color":"#111","align":"center","baseline":"middle"},
"encoding":{
"x":{"field":"x","type":"quantitative","scale":{"domain":[0,2736],"range":[0,2736],"zero":false,"nice":false},"axis":null},
"y":{"field":"y","type":"quantitative","scale":{"domain":[0,1908],"range":[0,1908],"zero":false,"nice":false},"axis":null},
"text":{"field":"label"},
"size":{"field":"k","type":"nominal","scale":{"type":"ordinal","domain":["title","root","gene","small","mid","note"],"range":[63,50,42,25,37,40]},"legend":null}}},
{"data":{"values":[{"panel":"A","x":17,"y":95},{"panel":"B","x":1400,"y":96},{"panel":"C","x":17,"y":1034},{"panel":"D","x":1397,"y":1047}]},
"mark":{"type":"text","font":"Liberation Sans","fontWeight":"bold","fontSize":82,"color":"#000","align":"left","baseline":"alphabetic"},
"encoding":{
"x":{"field":"x","type":"quantitative","scale":{"domain":[0,2736],"range":[0,2736],"zero":false,"nice":false},"axis":null},
"y":{"field":"y","type":"quantitative","scale":{"domain":[0,1908],"range":[0,1908],"zero":false,"nice":false},"axis":null},
"text":{"field":"panel"}}}
]
}
